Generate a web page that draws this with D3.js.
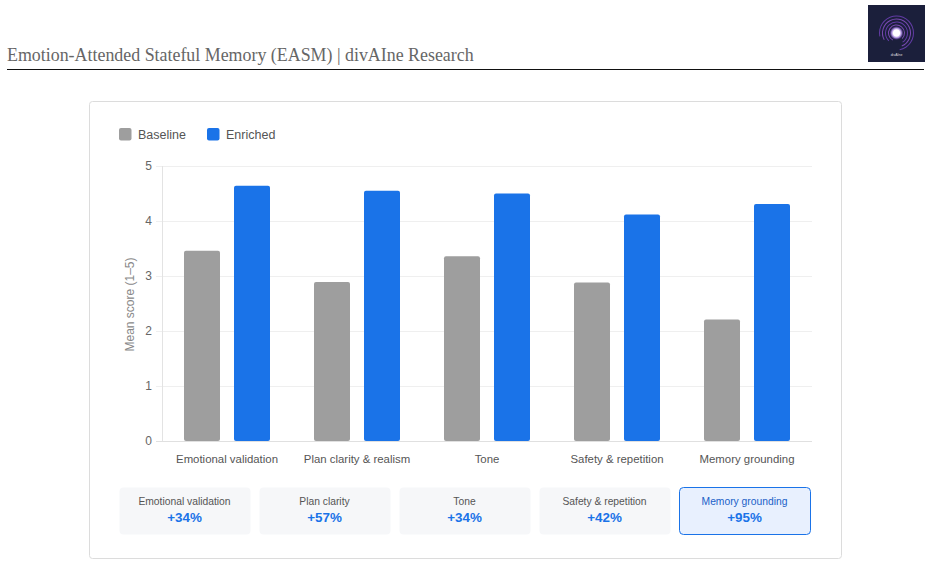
<!DOCTYPE html>
<html><head><meta charset="utf-8">
<script src="https://cdn.jsdelivr.net/npm/d3@7/dist/d3.min.js"></script>
<style>
html,body{margin:0;padding:0;background:#fff;}
svg{display:block;}
</style></head>
<body>
<svg id="c" width="931" height="566"></svg>
<script>
const categories = ["Emotional validation","Plan clarity & realism","Tone","Safety & repetition","Memory grounding"];
const series = ["Baseline","Enriched"];
const baseline = [3.46, 2.89, 3.36, 2.88, 2.21];
const enriched = [4.64, 4.55, 4.50, 4.12, 4.31];
const yTicks = [0,1,2,3,4,5];
const cardLabels = ["Emotional validation","Plan clarity","Tone","Safety & repetition","Memory grounding"];
const cardValues = ["+34%","+57%","+34%","+42%","+95%"];
const highlightIndex = 4;
const colors = {Baseline:"#9e9e9e", Enriched:"#1a73e8"};

(function(){
const svg = d3.select("#c");
const FONT = "'Liberation Sans', Arial, sans-serif";

// Header
svg.append("text").attr("x",7).attr("y",61)
  .attr("font-family","'Liberation Serif','Times New Roman',serif")
  .attr("font-size",17.9).attr("fill","#666")
  .text("Emotion-Attended Stateful Memory (EASM) | divAIne Research");
svg.append("line").attr("x1",7).attr("x2",924).attr("y1",69.5).attr("y2",69.5)
  .attr("stroke","#111").attr("stroke-width",1.2);

// Logo
const logo = svg.append("g").attr("transform","translate(868,5)");
logo.append("rect").attr("width",57).attr("height",57).attr("fill","#1b1f3b");
const lcx=28.5, lcy=28;
const defs = svg.append("defs");
const rg = defs.append("radialGradient").attr("id","glow");
rg.append("stop").attr("offset","0%").attr("stop-color","#ffffff");
rg.append("stop").attr("offset","45%").attr("stop-color","#ffffff");
rg.append("stop").attr("offset","70%").attr("stop-color","#c9a6ff").attr("stop-opacity",0.8);
rg.append("stop").attr("offset","100%").attr("stop-color","#7a3fd0").attr("stop-opacity",0);
const ringR = [8,11,14,17];
ringR.forEach((r,i)=>{
  const arc = d3.arc().innerRadius(r-0.5).outerRadius(r+0.5)
    .startAngle(-Math.PI*0.85 + i*0.3).endAngle(Math.PI*0.75 + i*0.2);
  logo.append("path").attr("d",arc()).attr("transform",`translate(${lcx},${lcy})`)
    .attr("fill", i%2? "#7a45c8":"#9a5ad8").attr("opacity",0.75);
});
logo.append("circle").attr("cx",lcx).attr("cy",lcy).attr("r",7).attr("fill","url(#glow)");
logo.append("circle").attr("cx",lcx).attr("cy",lcy).attr("r",3).attr("fill","#fff");
logo.append("text").attr("x",lcx).attr("y",51).attr("text-anchor","middle")
  .attr("font-family",FONT).attr("font-size",3.5).attr("fill","#ddd").text("divAIne");

// Card
svg.append("rect").attr("x",89.5).attr("y",101.5).attr("width",752).attr("height",457)
  .attr("rx",3).attr("fill","#fff").attr("stroke","#dcdcdc");

// Legend
const leg = svg.append("g");
series.forEach((s,i)=>{
  const lx = [119,207][i];
  leg.append("rect").attr("x",lx).attr("y",128).attr("width",12.5).attr("height",12.5)
    .attr("rx",2).attr("fill",colors[s]);
  leg.append("text").attr("x",lx+19).attr("y",138.8).attr("font-family",FONT)
    .attr("font-size",12.5).attr("fill","#555").text(s);
});

// Plot
const pLeft=162, pRight=812, pTop=166, pBottom=441;
const x0 = d3.scaleBand().domain(categories).range([pLeft,pRight]);
const x1 = d3.scaleBand().domain(series).range([22,108]).paddingInner(0.28);
const y = d3.scaleLinear().domain([0,5]).range([pBottom,pTop]);

const gridG = svg.append("g");
gridG.selectAll("line").data(yTicks).join("line")
  .attr("x1",pLeft-6).attr("x2",pRight).attr("y1",d=>Math.round(y(d))+0.5).attr("y2",d=>Math.round(y(d))+0.5)
  .attr("stroke",d=>d===0?"#e0e0e0":"#efefef");
svg.append("line").attr("x1",pLeft+0.5).attr("x2",pLeft+0.5).attr("y1",pTop).attr("y2",pBottom)
  .attr("stroke","#e3e3e3");

const yAxis = svg.append("g").attr("transform",`translate(${pLeft},0)`)
  .call(d3.axisLeft(y).tickValues(yTicks).tickSize(0).tickPadding(10).tickFormat(d3.format("d")));
yAxis.select(".domain").remove();
yAxis.selectAll("text").attr("font-family",FONT).attr("font-size",12).attr("fill","#666");

svg.append("text").attr("transform",`translate(134,${(pTop+pBottom)/2 + 1}) rotate(-90)`)
  .attr("text-anchor","middle").attr("font-family",FONT).attr("font-size",12)
  .attr("fill","#888").text("Mean score (1–5)");

const data = categories.map((c,i)=>({c, vals:[{s:"Baseline",v:baseline[i]},{s:"Enriched",v:enriched[i]}]}));
const groups = svg.append("g").selectAll("g").data(data).join("g")
  .attr("transform",d=>`translate(${x0(d.c)},0)`);
groups.selectAll("rect").data(d=>d.vals).join("rect")
  .attr("x",d=>x1(d.s)).attr("width",x1.bandwidth())
  .attr("y",d=>y(d.v)).attr("height",d=>y(0)-y(d.v))
  .attr("rx",2).attr("fill",d=>colors[d.s]);

const xAxis = svg.append("g").attr("transform",`translate(0,${pBottom})`)
  .call(d3.axisBottom(x0).tickSize(0).tickPadding(14));
xAxis.select(".domain").remove();
xAxis.selectAll("text").attr("font-family",FONT).attr("font-size",11.4).attr("fill","#555");

// Summary cards
const cw=131, gap=9, cx0=119, cyTop=487, ch=47;
const cards = svg.append("g").selectAll("g").data(cardLabels).join("g")
  .attr("transform",(d,i)=>`translate(${cx0+i*(cw+gap)},${cyTop})`);
cards.append("rect").attr("x",0.5).attr("y",0.5).attr("width",cw).attr("height",ch).attr("rx",4)
  .attr("fill",(d,i)=>i===highlightIndex?"#e8f0fe":"#f6f7f9")
  .attr("stroke",(d,i)=>i===highlightIndex?"#1a73e8":"none");
cards.append("text").attr("x",cw/2).attr("y",17.5).attr("text-anchor","middle")
  .attr("font-family",FONT).attr("font-size",10.3)
  .attr("fill",(d,i)=>i===highlightIndex?"#1a5fc8":"#555").text(d=>d);
cards.append("text").attr("x",cw/2).attr("y",35).attr("text-anchor","middle")
  .attr("font-family",FONT).attr("font-size",13.4).attr("font-weight","bold")
  .attr("fill","#1a73e8").text((d,i)=>cardValues[i]);
})();
</script>
</body></html>
